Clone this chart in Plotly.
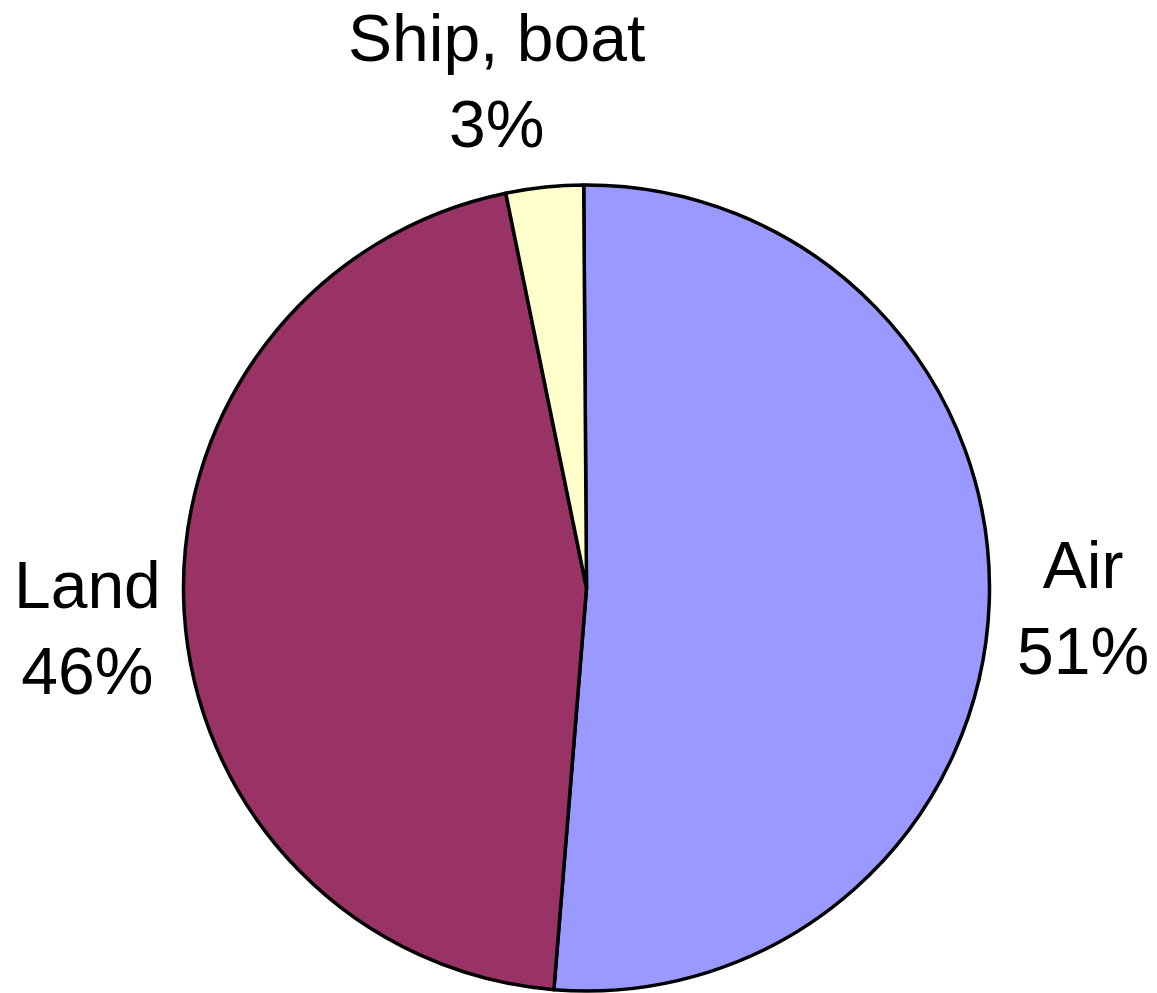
import plotly.graph_objects as go

# Share of transport mode
labels = ["Air", "Land", "Ship, boat"]
values = [51.4, 45.5, 3.1]
colors = ["#9999FF", "#993366", "#FFFFCC"]

W, H = 1157, 993
cx, cy, r = 586.5, 588, 403  # pie centre / radius in pixels (from top-left)

fig = go.Figure(go.Pie(
    labels=labels,
    values=values,
    sort=False,
    direction="clockwise",
    rotation=-0.4,
    marker=dict(colors=colors, line=dict(color="#000000", width=3.5)),
    textinfo="none",
    hoverinfo="label+percent",
    showlegend=False,
    domain=dict(x=[(cx - r) / W, (cx + r) / W],
                y=[(H - cy - r) / H, (H - cy + r) / H]),
))

total = sum(values)
# label positions (pixel centres of each text block)
label_pos = {"Air": (1083, 608), "Land": (87, 628), "Ship, boat": (496, 81)}
for name, v in zip(labels, values):
    px, py = label_pos[name]
    fig.add_annotation(
        x=px / W, y=1 - py / H, xref="paper", yref="paper",
        text=f"{name}<br>{round(v / total * 100)}%",
        showarrow=False, xanchor="center", yanchor="middle",
        font=dict(family="Liberation Sans, Arial, sans-serif", size=66, color="#000000"),
    )

fig.update_layout(
    width=W, height=H,
    margin=dict(l=0, r=0, t=0, b=0),
    paper_bgcolor="#FFFFFF",
    plot_bgcolor="#FFFFFF",
)

fig.write_html("out.html")
